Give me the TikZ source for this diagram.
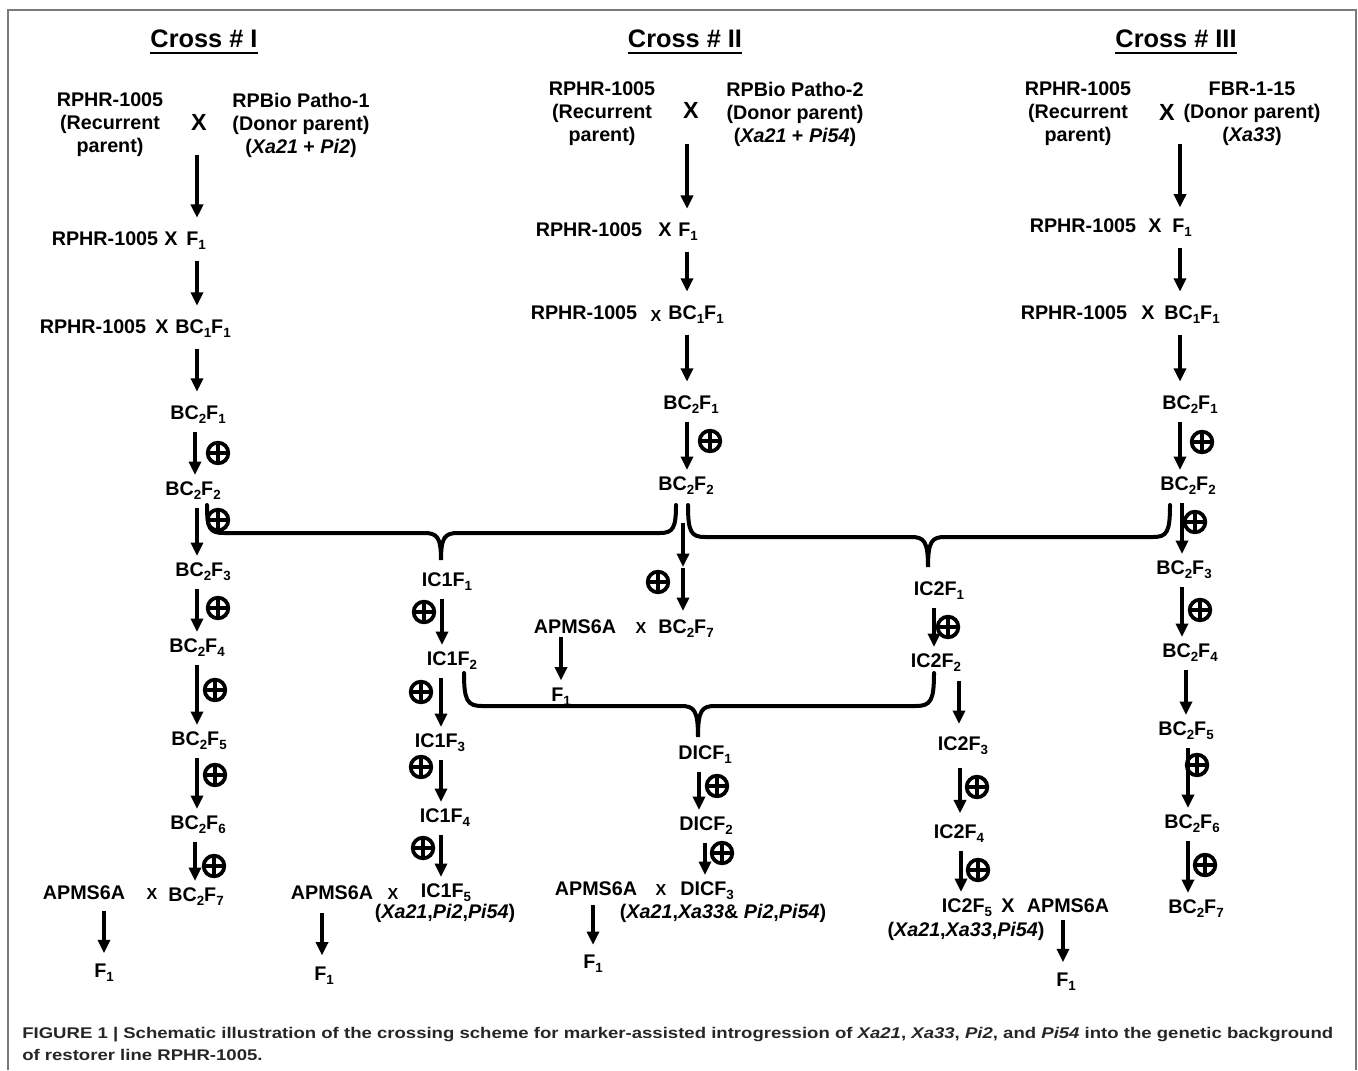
\documentclass[tikz,border=0pt]{standalone}
\usepackage{fontspec}
\setmainfont{Liberation Sans}
\newfontfamily\capfont[FakeStretch=1.2]{Liberation Sans}
\usetikzlibrary{arrows.meta}
\newcommand\lbf{\fontsize{14.8}{17.25}\selectfont\bfseries}
\newcommand\sbs[1]{\raisebox{-0.45ex}{\fontsize{10}{10}\selectfont #1}}
\definecolor{framegray}{HTML}{7A7A7A}
\definecolor{capcol}{HTML}{262626}
\begin{document}
\begin{tikzpicture}[x=0.75pt,y=-0.75pt,
  lb/.style={font=\lbf, inner sep=1pt, anchor=base},
  par/.style={font=\lbf, inner sep=1pt, align=center, anchor=north},
  gn/.style={font=\lbf, inner sep=1pt, anchor=base},
  bigx/.style={font=\fontsize{17.5}{17.5}\selectfont\bfseries, inner sep=1pt},
  smx/.style={font=\fontsize{12}{12}\selectfont\bfseries, inner sep=1pt, anchor=base},
  ttl/.style={font=\fontsize{19}{19}\selectfont\bfseries, inner sep=0pt, anchor=base},
  arr/.style={line width=2.6pt, -{Triangle[length=10pt,width=9pt]}, shorten <=5pt, shorten >=3.5pt},
  arrt/.style={arr, shorten <=7pt, shorten >=9pt},
  arrp/.style={arr, shorten <=-2.5pt, shorten >=9pt},
  brc/.style={line width=3pt, line cap=round},
  sf/.style={circle, draw, line width=2.8pt, minimum size=15.5pt, inner sep=0pt,
    path picture={\draw[line width=2.8pt] (path picture bounding box.north)--(path picture bounding box.south) (path picture bounding box.west)--(path picture bounding box.east);}},
  captxt/.style={font=\capfont\fontsize{11.6}{14}\selectfont\bfseries, text=capcol, anchor=base west, inner sep=0pt}
]
\useasboundingbox (0,0) rectangle (1358,1070);
\draw[framegray, line width=1.5pt] (8,1070) -- (8,10) -- (1356,10) -- (1356,1070);

% ---------- titles
\node[ttl] (t1) at (204,48) {Cross \# I};
\node[ttl] (t2) at (685,48) {Cross \# II};
\node[ttl] (t3) at (1176,48) {Cross \# III};
\foreach \t in {t1,t2,t3}{\draw[line width=1.6pt] ([yshift=-3.5pt]\t.base west) -- ([yshift=-3.5pt]\t.base east);}

% ---------- Cross I
\node[par] (rp1) at (110,91.5) {RPHR-1005\\(Recurrent\\parent)};
\node[bigx] (x1) at (199,122) {X};
\node[par] (dp1) at (301,91.5) {RPBio Patho-1\\(Donor parent)\\(\textit{Xa21} + \textit{Pi2})};
\node[lb] (a1r) at (105,245) {RPHR-1005};
\node[lb] (a1x) at (171,245) {X};
\node[lb] (a1f) at (196,245) {F\sbs1};
\node[lb] (b1r) at (93,333) {RPHR-1005};
\node[lb] (b1x) at (162,333) {X};
\node[lb] (b1f) at (203,333) {BC\sbs1F\sbs1};
\node[lb] (bc21) at (198,419) {BC\sbs2F\sbs1};
\node[lb] (bc22) at (193,495) {BC\sbs2F\sbs2};
\node[lb] (bc23) at (203,576) {BC\sbs2F\sbs3};
\node[lb] (bc24) at (197,652) {BC\sbs2F\sbs4};
\node[lb] (bc25) at (199,745) {BC\sbs2F\sbs5};
\node[lb] (bc26) at (198,829) {BC\sbs2F\sbs6};
\node[lb] (ap1) at (84,899) {APMS6A};
\node[smx] (x1b) at (152,899) {X};
\node[lb] (bc27) at (196,901) {BC\sbs2F\sbs7};
\node[lb] (f11) at (104,977) {F\sbs1};

\draw[arrp] (rp1.south -| 197,0) -- (a1f.north -| 197,0);
\draw[arrt] (a1f.south -| 197,0) -- (b1f.north -| 197,0);
\draw[arrt] (b1f.south -| 197,0) -- (bc21.north -| 197,0);
\draw[arr] (bc21.south -| 195,0) -- (bc22.north -| 195,0);
\draw[arr] (bc22.south -| 197,0) -- (bc23.north -| 197,0);
\draw[arr] (bc23.south -| 197,0) -- (bc24.north -| 197,0);
\draw[arr] (bc24.south -| 197,0) -- (bc25.north -| 197,0);
\draw[arr] (bc25.south -| 197,0) -- (bc26.north -| 197,0);
\draw[arr] (bc26.south -| 195,0) -- (bc27.north -| 195,0);
\draw[arr, shorten <=7.5pt, shorten >=6.5pt] (ap1.south -| 104,0) -- (f11.north -| 104,0);
\node[sf] (o1) at (218,453) {};
\node[sf] (o2) at (218,520) {};
\node[sf] (o3) at (218,608) {};
\node[sf] (o4) at (215,690) {};
\node[sf] (o5) at (215,775) {};
\node[sf] (o6) at (214,866) {};

% ---------- IC1 column
\node[lb] (ic11) at (447,586) {IC1F\sbs1};
\node[lb] (ic12) at (452,665) {IC1F\sbs2};
\node[lb] (ic13) at (440,747) {IC1F\sbs3};
\node[lb] (ic14) at (445,822) {IC1F\sbs4};
\node[lb] (ic15) at (446,897) {IC1F\sbs5};
\node[gn] (g1) at (445,918) {(\textit{Xa21},\textit{Pi2},\textit{Pi54})};
\node[lb] (ap2) at (332,899) {APMS6A};
\node[smx] (x2b) at (393,899) {X};
\node[lb] (f12) at (324,980) {F\sbs1};
\draw[arr] (ic11.south -| 442,0) -- (ic12.north -| 442,0);
\draw[arr] (ic12.south -| 441,0) -- (ic13.north -| 441,0);
\draw[arr] (ic13.south -| 441,0) -- (ic14.north -| 441,0);
\draw[arr] (ic14.south -| 441,0) -- (ic15.north -| 441,0);
\draw[arr, shorten <=9pt, shorten >=7pt] (ap2.south -| 322,0) -- (f12.north -| 322,0);
\node[sf] (o7) at (424,612) {};
\node[sf] (o8) at (421,692) {};
\node[sf] (o9) at (421,767) {};
\node[sf] (o10) at (423,848) {};

% ---------- Cross II
\node[par] (rp2) at (602,80.5) {RPHR-1005\\(Recurrent\\parent)};
\node[bigx] (x2) at (691,110) {X};
\node[par] (dp2) at (795,80.5) {RPBio Patho-2\\(Donor parent)\\(\textit{Xa21} + \textit{Pi54})};
\node[lb] (a2r) at (589,236) {RPHR-1005};
\node[lb] (a2x) at (665,236) {X};
\node[lb] (a2f) at (688,236) {F\sbs1};
\node[lb] (b2r) at (584,319) {RPHR-1005};
\node[smx] (b2x) at (656,321) {X};
\node[lb] (b2f) at (696,319) {BC\sbs1F\sbs1};
\node[lb] (bc2a1) at (691,409) {BC\sbs2F\sbs1};
\node[lb] (bc2a2) at (686,490) {BC\sbs2F\sbs2};
\coordinate (m2) at (683,567);
\node[lb] (ap3) at (575,633) {APMS6A};
\node[smx] (x3b) at (641,633) {X};
\node[lb] (bc2a7) at (686,633) {BC\sbs2F\sbs7};
\node[lb] (f13) at (561,701) {F\sbs1};
\draw[arrp] (rp2.south -| 687,0) -- (a2f.north -| 687,0);
\draw[arrt] (a2f.south -| 687,0) -- (b2f.north -| 687,0);
\draw[arrt] (b2f.south -| 687,0) -- (bc2a1.north -| 687,0);
\draw[arr] (bc2a1.south -| 687,0) -- (bc2a2.north -| 687,0);
\draw[arr, shorten <=20pt, shorten >=0pt] (bc2a2.south -| 683,0) -- (m2);
\draw[arr, shorten <=1pt, shorten >=5pt] (m2) -- (bc2a7.north -| 683,0);
\draw[arr, shorten <=2pt, shorten >=4pt] (ap3.south -| 561,0) -- (f13.north -| 561,0);
\node[sf] (o11) at (710,441) {};
\node[sf] (o12) at (658,582) {};

% ---------- DICF column
\node[lb] (d1) at (705,759) {DICF\sbs1};
\node[lb] (d2) at (706,830) {DICF\sbs2};
\node[lb] (d3) at (707,895) {DICF\sbs3};
\node[gn] (g2) at (723,918) {(\textit{Xa21},\textit{Xa33}\& \textit{Pi2},\textit{Pi54})};
\node[lb] (ap4) at (596,895) {APMS6A};
\node[smx] (x4b) at (661,895) {X};
\node[lb] (f14) at (593,968) {F\sbs1};
\draw[arr] (d1.south -| 699,0) -- (d2.north -| 699,0);
\draw[arr] (d2.south -| 705,0) -- (d3.north -| 705,0);
\draw[arr, shorten <=6pt, shorten >=6pt] (ap4.south -| 593,0) -- (f14.north -| 593,0);
\node[sf] (o13) at (717,786) {};
\node[sf] (o14) at (722,853) {};

% ---------- IC2 column
\node[lb] (ic21) at (939,595) {IC2F\sbs1};
\node[lb] (ic22) at (936,667) {IC2F\sbs2};
\node[lb] (ic23) at (963,750) {IC2F\sbs3};
\node[lb] (ic24) at (959,838) {IC2F\sbs4};
\node[lb] (ic25) at (967,912) {IC2F\sbs5};
\node[lb] (x5) at (1008,912) {X};
\node[lb] (ap5) at (1068,912) {APMS6A};
\node[gn] (g3) at (966,936) {(\textit{Xa21},\textit{Xa33},\textit{Pi54})};
\node[lb] (f15) at (1066,986) {F\sbs1};
\draw[arr] (ic21.south -| 934,0) -- (ic22.north -| 934,0);
\draw[arr, shorten <=6pt, shorten >=8pt] (ic22.south -| 959,0) -- (ic23.north -| 959,0);
\draw[arr, shorten <=9pt, shorten >=7pt] (ic23.south -| 960,0) -- (ic24.north -| 960,0);
\draw[arr] (ic24.south -| 961,0) -- (ic25.north -| 961,0);
\draw[arr, shorten <=5pt, shorten >=6.5pt] (ap5.south -| 1063,0) -- (f15.north -| 1063,0);
\node[sf] (o15) at (948,627) {};
\node[sf] (o16) at (977,787) {};
\node[sf] (o17) at (978,870) {};

% ---------- Cross III
\node[par] (rp3) at (1078,80.5) {RPHR-1005\\(Recurrent\\parent)};
\node[bigx] (x3) at (1167,112) {X};
\node[par] (dp3) at (1252,80.5) {FBR-1-15\\(Donor parent)\\(\textit{Xa33})};
\node[lb] (c1r) at (1083,232) {RPHR-1005};
\node[lb] (c1x) at (1155,232) {X};
\node[lb] (c1f) at (1182,232) {F\sbs1};
\node[lb] (d1r) at (1074,319) {RPHR-1005};
\node[lb] (d1x) at (1148,319) {X};
\node[lb] (d1f) at (1192,319) {BC\sbs1F\sbs1};
\node[lb] (cb1) at (1190,409) {BC\sbs2F\sbs1};
\node[lb] (cb2) at (1188,490) {BC\sbs2F\sbs2};
\node[lb] (cb3) at (1184,574) {BC\sbs2F\sbs3};
\node[lb] (cb4) at (1190,657) {BC\sbs2F\sbs4};
\node[lb] (cb5) at (1186,735) {BC\sbs2F\sbs5};
\node[lb] (cb6) at (1192,828) {BC\sbs2F\sbs6};
\node[lb] (cb7) at (1196,913) {BC\sbs2F\sbs7};
\draw[arrp, shorten >=7pt] (rp3.south -| 1180,0) -- (c1f.north -| 1180,0);
\draw[arrt] (c1f.south -| 1180,0) -- (d1f.north -| 1180,0);
\draw[arrt] (d1f.south -| 1180,0) -- (cb1.north -| 1180,0);
\draw[arr] (cb1.south -| 1180,0) -- (cb2.north -| 1180,0);
\draw[arr] (cb2.south -| 1182,0) -- (cb3.north -| 1182,0);
\draw[arr] (cb3.south -| 1182,0) -- (cb4.north -| 1182,0);
\draw[arr] (cb4.south -| 1186,0) -- (cb5.north -| 1186,0);
\draw[arr] (cb5.south -| 1188,0) -- (cb6.north -| 1188,0);
\draw[arr] (cb6.south -| 1188,0) -- (cb7.north -| 1188,0);
\node[sf] (o18) at (1202,442) {};
\node[sf] (o19) at (1195,522) {};
\node[sf] (o20) at (1200,610) {};
\node[sf] (o21) at (1197,765) {};
\node[sf] (o22) at (1205,865) {};

% ---------- braces
\coordinate (bAl) at (207,505);
\coordinate (bAm) at (441,560);
\coordinate (bAr) at (676,505);
\draw[brc] (bAl) .. controls (207,528) and (209,533) .. (224,533) -- (424,533)
  .. controls (437,533) and (441,537) .. (bAm)
  .. controls (441,537) and (445,533) .. (458,533) -- (660,533)
  .. controls (673,533) and (676,528) .. (bAr);
\coordinate (bBl) at (688,505);
\coordinate (bBm) at (928,567);
\coordinate (bBr) at (1170,505);
\draw[brc] (bBl) .. controls (688,532) and (691,537) .. (705,537) -- (911,537)
  .. controls (924,537) and (928,541) .. (bBm)
  .. controls (928,541) and (932,537) .. (945,537) -- (1153,537)
  .. controls (1167,537) and (1170,532) .. (bBr);
\coordinate (bCl) at (464,673);
\coordinate (bCm) at (698,737);
\coordinate (bCr) at (934,673);
\draw[brc] (bCl) .. controls (464,700) and (467,706) .. (482,706) -- (681,706)
  .. controls (694,706) and (698,710) .. (bCm)
  .. controls (698,710) and (702,706) .. (715,706) -- (916,706)
  .. controls (931,706) and (934,700) .. (bCr);

% ---------- caption
\node[captxt] (cap1) at (22,1038) {FIGURE 1 | Schematic illustration of the crossing scheme for marker-assisted introgression of \textit{Xa21}, \textit{Xa33}, \textit{Pi2}, and \textit{Pi54} into the genetic background};
\node[captxt] (cap2) at (22,1060) {of restorer line RPHR-1005.};
\end{tikzpicture}
\end{document}
